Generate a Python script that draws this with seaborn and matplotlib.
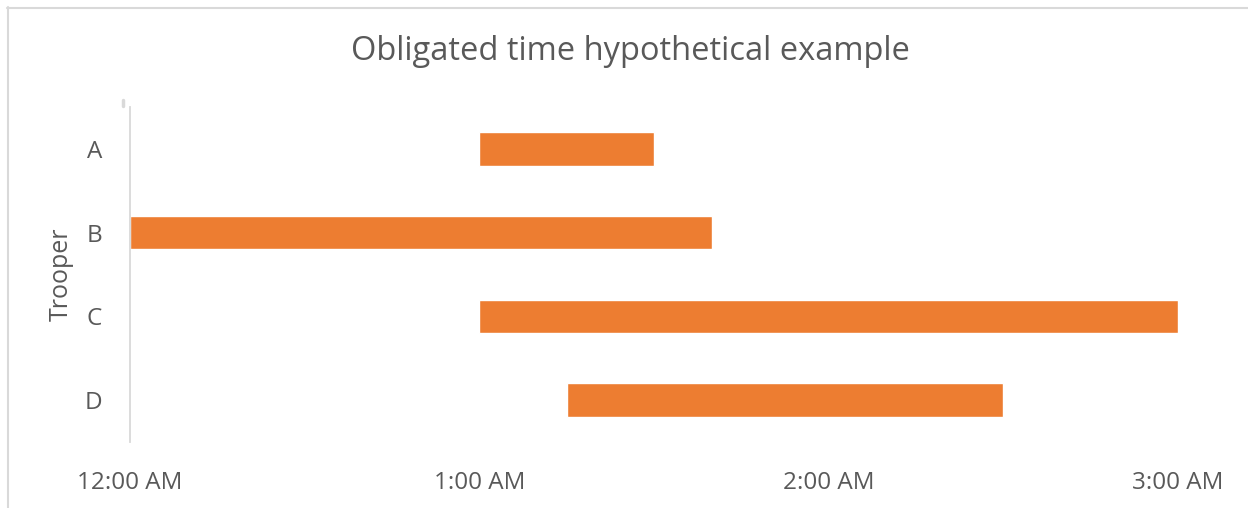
import matplotlib
matplotlib.use("Agg")
import matplotlib.pyplot as plt
import seaborn as sns
import pandas as pd
from matplotlib.lines import Line2D

troopers = ["A", "B", "C", "D"]
start_hours = [1.0, 0.0, 1.0, 1.25]
end_hours = [1.5, 1 + 40 / 60, 3.0, 2.5]
tick_values = [0, 1, 2, 3]
tick_labels = ["12:00 AM", "1:00 AM", "2:00 AM", "3:00 AM"]
title = "Obligated time hypothetical example"
ylabel = "Trooper"

df = pd.DataFrame({
    "Trooper": troopers,
    "start": start_hours,
    "duration": [e - s for s, e in zip(start_hours, end_hours)],
})

sns.set_theme(style="white")
plt.rcParams["font.family"] = ["Open Sans", "DejaVu Sans"]
text_color = "#595959"
grid_color = "#d9d9d9"

fig = plt.figure(figsize=(12.48, 5.08), dpi=100)
W, H = 1248, 508
ax = fig.add_axes([130 / W, 1 - 442 / H, (1178 - 130) / W, (442 - 107) / H])

sns.barplot(data=df, x="duration", y="Trooper", orient="y", left=df["start"],
            color="#ED7D31", saturation=1, width=0.4, ax=ax)

ax.set_xlim(0, 3)
ax.set_ylim(3.5, -0.5)
ax.set_xticks(tick_values)
ax.set_xticklabels(tick_labels)
ax.tick_params(axis="both", length=0, colors=text_color, labelsize=17.5)
ax.tick_params(axis="x", pad=21)
ax.tick_params(axis="y", pad=20)
for lab in ax.get_xticklabels() + ax.get_yticklabels():
    lab.set_color(text_color)

for s in ["top", "right", "bottom"]:
    ax.spines[s].set_visible(False)
ax.spines["left"].set_color(grid_color)
ax.spines["left"].set_linewidth(1.3)

ax.set_xlabel("")
ax.set_ylabel(ylabel, color=text_color, fontsize=18, labelpad=8)
fig.text(630 / W, 1 - 51 / H, title, ha="center", va="center",
         fontsize=23.5, color=text_color)

# small tick above the category axis
fig.add_artist(Line2D([122.5 / W, 122.5 / W], [1 - 100 / H, 1 - 106 / H],
                      transform=fig.transFigure, color=grid_color, lw=2.5))

# chart area border (top and left edges visible)
fig.add_artist(Line2D([7 / W, 1], [1 - 7.5 / H, 1 - 7.5 / H], transform=fig.transFigure,
                      color=grid_color, lw=1.5))
fig.add_artist(Line2D([7.5 / W, 7.5 / W], [0, 1 - 7 / H], transform=fig.transFigure,
                      color=grid_color, lw=1.5))

fig.savefig("out.png", dpi=100, facecolor="white")
